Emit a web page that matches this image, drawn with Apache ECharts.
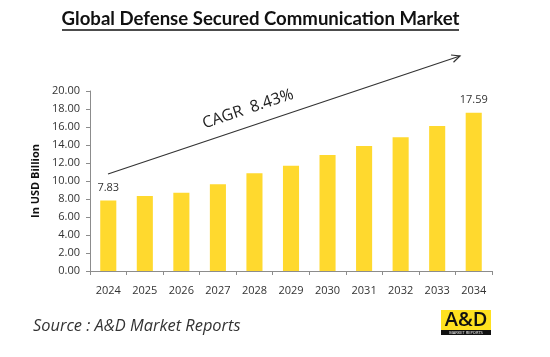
<!DOCTYPE html>
<html>
<head>
<meta charset="utf-8">
<script src="https://cdn.jsdelivr.net/npm/echarts@6/dist/echarts.min.js"></script>
<style>
html,body{margin:0;padding:0;background:#fff;}
#main{width:550px;height:357px;}
</style>
</head>
<body>
<div id="main"></div>
<script>
const titleText = 'Global Defense Secured Communication Market';
const categories = ['2024','2025','2026','2027','2028','2029','2030','2031','2032','2033','2034'];
const marketValues = [7.83, 8.32, 8.70, 9.65, 10.85, 11.70, 12.88, 13.88, 14.85, 16.10, 17.59];
const yAxisName = 'In USD Billion';
const cagrText = 'CAGR  8.43%';
const sourceText = 'Source : A&D Market Reports';
const logoText = 'A&D';

const chart = echarts.init(document.getElementById('main'), null, {renderer:'canvas'});
const last = marketValues.length - 1;
const barData = marketValues.map((v, i) => ({
  value: v,
  label: { show: i === 0 || i === last }
}));

const option = {
  backgroundColor: '#ffffff',
  animation: false,
  grid: { left: 90, right: 58, top: 91, bottom: 86 },
  xAxis: {
    type: 'category',
    data: categories,
    boundaryGap: true,
    axisLine: { lineStyle: { color: '#8c8c8c' } },
    axisTick: { show: true, length: 4, lineStyle: { color: '#8c8c8c' } },
    axisLabel: { margin: 14, fontFamily: 'Open Sans', fontSize: 11, color: '#333' }
  },
  yAxis: {
    type: 'value',
    min: 0, max: 20, interval: 2,
    name: yAxisName,
    nameLocation: 'middle',
    nameGap: 36,
    nameTextStyle: { fontFamily: 'Open Sans', fontWeight: 'bold', fontSize: 11, color: '#111' },
    axisLine: { show: true, lineStyle: { color: '#8c8c8c' } },
    axisTick: { show: true, length: 4, lineStyle: { color: '#8c8c8c' } },
    splitLine: { show: false },
    axisLabel: { margin: 10, fontFamily: 'Open Sans', fontSize: 11, color: '#333',
      formatter: v => v.toFixed(2) }
  },
  series: [{
    type: 'bar',
    data: barData,
    barWidth: '44%',
    itemStyle: { color: '#FFD92E' },
    label: { position: 'top', distance: 7, fontFamily: 'Open Sans', fontSize: 11, color: '#333',
      formatter: p => p.value.toFixed(2) }
  }],
  graphic: [
    { type: 'text', x: 260.5, y: 19,
      style: { text: titleText, fontFamily: 'Lato', fontWeight: 'bold', fontSize: 18.6, fill: '#111', align: 'center', verticalAlign: 'middle' } },
    { type: 'line', shape: { x1: 62, y1: 30, x2: 459, y2: 30 }, style: { stroke: '#111', lineWidth: 1.3 } },
    { type: 'line', shape: { x1: 108, y1: 174, x2: 460, y2: 56 }, style: { stroke: '#333', lineWidth: 1.2 } },
    { type: 'polyline', shape: { points: [[451, 55], [460, 56], [453.5, 62.2]] }, style: { stroke: '#333', lineWidth: 1.2, fill: null } },
    { type: 'text', x: 248, y: 109, rotation: 18.5 * Math.PI / 180,
      style: { text: cagrText, fontFamily: 'Open Sans', fontSize: 16, fill: '#222', align: 'center', verticalAlign: 'middle' } },
    { type: 'text', x: 33, y: 326,
      style: { text: sourceText, fontFamily: 'Open Sans', fontStyle: 'italic', fontSize: 16.4, fill: '#333', verticalAlign: 'middle' } },
    { type: 'rect', shape: { x: 441, y: 310, width: 50, height: 20 }, style: { fill: '#FFE11F' } },
    { type: 'rect', shape: { x: 441, y: 330, width: 50, height: 5 }, style: { fill: '#111' } },
    { type: 'text', x: 466, y: 320.5,
      style: { text: logoText, fontFamily: 'Open Sans', fontWeight: 600, fontSize: 20, fill: '#111', align: 'center', verticalAlign: 'middle' } },
    { type: 'text', x: 466, y: 332.5,
      style: { text: 'MARKET REPORTS', fontFamily: 'Open Sans', fontSize: 4, fill: '#fff', align: 'center', verticalAlign: 'middle' } }
  ]
};
chart.setOption(option);
</script>
</body>
</html>
